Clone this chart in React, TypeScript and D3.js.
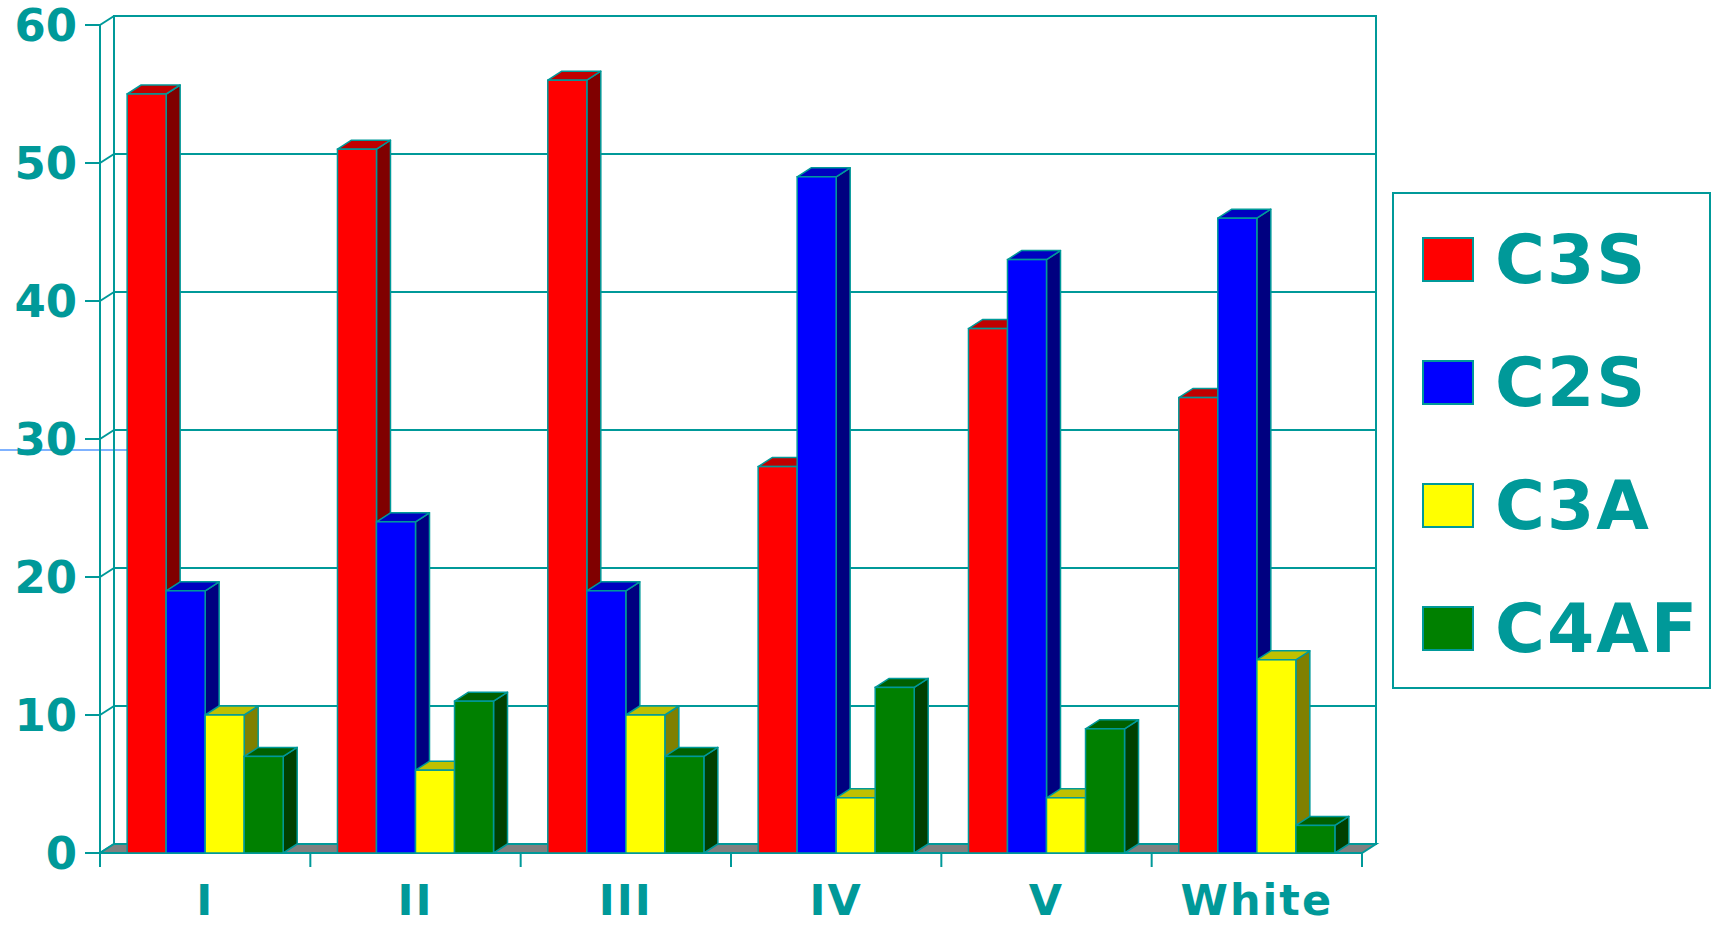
import React from "react";
import * as d3 from "d3";

const categories = ["I", "II", "III", "IV", "V", "White"];
const seriesNames = ["C3S", "C2S", "C3A", "C4AF"];
const C3S = [55, 51, 56, 28, 38, 33];
const C2S = [19, 24, 19, 49, 43, 46];
const C3A = [10, 6, 10, 4, 4, 14];
const C4AF = [7, 11, 7, 12, 9, 2];
const yTicks = [0, 10, 20, 30, 40, 50, 60];

const seriesValues = [C3S, C2S, C3A, C4AF];
const frontColors = ["#ff0000", "#0000ff", "#ffff00", "#008000"];
const topColors = ["#c00000", "#0000c0", "#c0c000", "#006000"];
const sideColors = ["#800000", "#000080", "#808000", "#004000"];

const TEAL = "#009999";
const FONT = "'DejaVu Sans', Verdana, sans-serif";

export default function App() {
  const W = 1712, H = 926;
  const x0 = 100, x1 = 1362;
  const y0 = 853, y1 = 25;
  const dx = 14, dy = 9;

  const y = d3.scaleLinear().domain([0, 60]).range([y0, y1]);
  const x = d3.scaleBand<string>().domain(categories).range([x0, x1]).paddingInner(0.258).paddingOuter(0.129);
  const xs = d3.scaleBand<string>().domain(seriesNames).range([0, x.bandwidth()]).padding(0);
  const step = (x1 - x0) / categories.length;

  const bars: JSX.Element[] = [];
  categories.forEach((c, ci) => {
    seriesNames.forEach((s, si) => {
      const v = seriesValues[si][ci];
      const bx = (x(c) as number) + (xs(s) as number);
      const bw = xs.bandwidth();
      const top = y(v);
      const bot = y(0);
      bars.push(
        <g key={`${c}-${s}`}>
          <polygon
            points={`${bx + bw},${top} ${bx + bw + dx},${top - dy} ${bx + bw + dx},${bot - dy} ${bx + bw},${bot}`}
            fill={sideColors[si]} stroke={TEAL} strokeWidth={1.5} strokeLinejoin="round" />
          <polygon
            points={`${bx},${top} ${bx + dx},${top - dy} ${bx + bw + dx},${top - dy} ${bx + bw},${top}`}
            fill={topColors[si]} stroke={TEAL} strokeWidth={1.5} strokeLinejoin="round" />
          <rect x={bx} y={top} width={bw} height={bot - top} fill={frontColors[si]} stroke={TEAL} strokeWidth={1.5} />
        </g>
      );
    });
  });

  const firstBarX = (x(categories[0]) as number);

  return (
    <svg width={W} height={H} style={{ position: "absolute", left: 0, top: 0, background: "#fff" }}>
      {/* stray line */}
      <line x1={0} x2={firstBarX} y1={450} y2={450} stroke="#0066ff" strokeWidth={1.2} />
      {/* back wall */}
      <rect x={x0 + dx} y={y1 - dy} width={x1 - x0} height={y0 - y1} fill="none" stroke={TEAL} strokeWidth={2} />
      {/* gridlines + left wall connectors */}
      {yTicks.map((t) => (
        <g key={t}>
          <line x1={x0 + dx} x2={x1 + dx} y1={y(t) - dy} y2={y(t) - dy} stroke={TEAL} strokeWidth={2} />
          <line x1={x0} x2={x0 + dx} y1={y(t)} y2={y(t) - dy} stroke={TEAL} strokeWidth={2} />
          <line x1={x0 - 15} x2={x0} y1={y(t)} y2={y(t)} stroke={TEAL} strokeWidth={2} />
          <text x={77} y={y(t)} dy="0.36em" textAnchor="end" fontFamily={FONT} fontWeight="bold" fontSize={45} fill={TEAL}>{t}</text>
        </g>
      ))}
      <line x1={x0} x2={x0} y1={y1} y2={y0 + 14} stroke={TEAL} strokeWidth={2} />
      {/* floor */}
      <polygon points={`${x0},${y0} ${x1},${y0} ${x1 + dx},${y0 - dy} ${x0 + dx},${y0 - dy}`} fill="#808080" stroke={TEAL} strokeWidth={2} />
      {/* category ticks */}
      {d3.range(categories.length + 1).map((i) => (
        <line key={i} x1={x0 + i * step} x2={x0 + i * step} y1={y0} y2={y0 + 14} stroke={TEAL} strokeWidth={2} />
      ))}
      {bars}
      {/* category labels */}
      {categories.map((c) => (
        <text key={c} x={(x(c) as number) + x.bandwidth() / 2} y={915} textAnchor="middle" fontFamily={FONT} fontWeight="bold" fontSize={43} letterSpacing={2} fill={TEAL}>{c}</text>
      ))}
      {/* legend */}
      <rect x={1393} y={193} width={317} height={495} fill="#fff" stroke={TEAL} strokeWidth={2} />
      {seriesNames.map((s, i) => (
        <g key={s} transform={`translate(0, ${i * 123})`}>
          <rect x={1423} y={238} width={50} height={43} fill={frontColors[i]} stroke={TEAL} strokeWidth={2} />
          <text x={1495} y={283} fontFamily={FONT} fontWeight="bold" fontSize={68} letterSpacing={2} fill={TEAL}>{s}</text>
        </g>
      ))}
    </svg>
  );
}
